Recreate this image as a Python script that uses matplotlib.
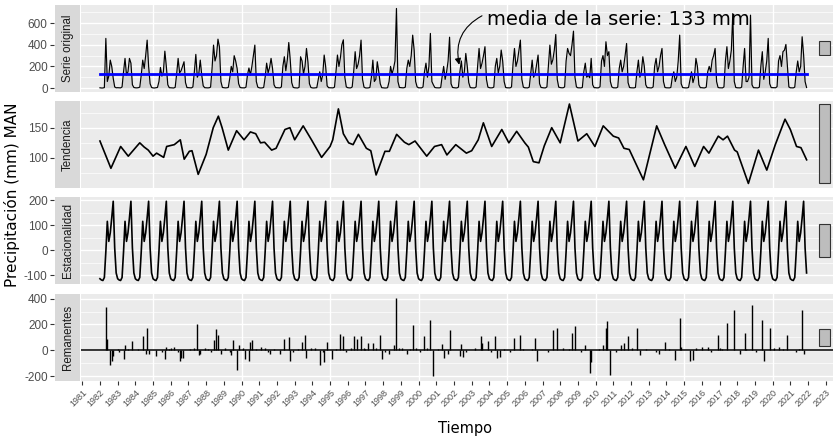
import numpy as np
import matplotlib
matplotlib.use("Agg")
import matplotlib.pyplot as plt
from matplotlib.patches import Rectangle, FancyArrowPatch

plt.rcParams['axes.unicode_minus'] = False

# ---------------- data ----------------
anio_inicio = 1982
serie_original = [
    2, 0, 0, 4, 459, 60, 110, 258, 200, 90, 10, 2,        # 1982
    3, 2, 1, 10, 150, 274, 120, 150, 274, 230, 30, 5,     # 1983
    2, 1, 3, 8, 120, 258, 180, 300, 443, 200, 40, 5,      # 1984
    1, 0, 2, 5, 60, 190, 110, 150, 341, 200, 30, 3,       # 1985
    2, 1, 0, 6, 130, 274, 140, 160, 200, 243, 50, 4,      # 1986
    3, 2, 1, 10, 150, 311, 100, 130, 258, 120, 20, 3,     # 1987
    2, 1, 2, 8, 180, 397, 250, 300, 452, 380, 60, 5,      # 1988
    3, 1, 2, 5, 90, 200, 150, 299, 250, 180, 40, 5,       # 1989
    2, 1, 1, 8, 120, 185, 120, 200, 300, 397, 60, 8,      # 1990
    2, 0, 1, 5, 100, 230, 140, 190, 274, 180, 30, 4,      # 1991
    3, 1, 1, 10, 200, 289, 160, 260, 421, 260, 50, 6,     # 1992
    2, 1, 0, 6, 289, 250, 130, 200, 366, 240, 40, 5,      # 1993
    1, 0, 1, 3, 80, 150, 60, 120, 305, 200, 20, 3,        # 1994
    2, 1, 1, 8, 150, 305, 200, 280, 400, 446, 100, 10,    # 1995
    3, 1, 1, 10, 150, 336, 180, 220, 300, 443, 80, 8,     # 1996
    1, 0, 1, 5, 100, 258, 60, 80, 243, 150, 40, 3,        # 1997
    1, 0, 0, 3, 60, 200, 130, 180, 250, 736, 60, 5,       # 1998
    3, 2, 2, 8, 180, 258, 200, 300, 489, 350, 60, 10,     # 1999
    2, 1, 1, 10, 150, 230, 100, 200, 505, 60, 30, 5,      # 2000
    2, 1, 1, 5, 110, 200, 80, 150, 250, 470, 40, 5,       # 2001
    3, 1, 1, 8, 150, 250, 100, 150, 320, 200, 50, 5,      # 2002
    2, 1, 1, 10, 200, 366, 180, 230, 300, 382, 80, 8,     # 2003
    3, 1, 2, 8, 200, 274, 140, 200, 351, 250, 60, 5,      # 2004
    2, 1, 1, 10, 220, 366, 200, 250, 350, 443, 80, 8,     # 2005
    2, 1, 1, 8, 130, 258, 100, 130, 220, 305, 40, 5,      # 2006
    3, 1, 1, 10, 200, 397, 220, 260, 350, 495, 80, 8,     # 2007
    4, 2, 2, 10, 250, 366, 320, 300, 400, 526, 100, 10,   # 2008
    2, 1, 1, 5, 150, 230, 100, 120, 95, 274, 30, 3,       # 2009
    3, 1, 2, 12, 250, 300, 200, 428, 300, 336, 60, 10,    # 2010
    2, 1, 1, 8, 180, 258, 150, 200, 300, 412, 50, 5,      # 2011
    2, 1, 1, 5, 150, 258, 100, 150, 289, 200, 30, 3,      # 2012
    3, 1, 1, 10, 200, 274, 150, 200, 300, 366, 60, 5,     # 2013
    2, 1, 1, 5, 100, 150, 60, 100, 250, 489, 40, 4,       # 2014
    2, 1, 1, 5, 80, 150, 50, 100, 274, 200, 30, 3,        # 2015
    3, 1, 1, 8, 150, 200, 150, 258, 300, 366, 60, 5,      # 2016
    2, 1, 1, 10, 250, 382, 180, 250, 350, 689, 60, 5,     # 2017
    2, 1, 1, 8, 200, 366, 60, 60, 100, 674, 30, 3,        # 2018
    2, 1, 1, 8, 200, 336, 80, 150, 250, 459, 40, 4,       # 2019
    3, 1, 2, 12, 250, 300, 200, 336, 350, 403, 200, 10,   # 2020
    2, 1, 1, 8, 150, 250, 150, 200, 474, 305, 60, 5,      # 2021
]
estacionalidad_mensual = [-113, -118, -120, -108, -5, 116, 36, 70, 130, 196, 10, -90]

tendencia_t = [1982.0, 1982.62, 1983.17, 1983.6, 1984.07, 1984.25, 1984.5, 1984.73,
               1985.0, 1985.2, 1985.6, 1985.77, 1986.2, 1986.54, 1986.76, 1987.05,
               1987.2, 1987.55, 1988.0, 1988.4, 1988.69, 1988.9, 1989.25, 1989.72,
               1990.14, 1990.5, 1990.8, 1991.07, 1991.3, 1991.7, 1991.95, 1992.45,
               1992.73, 1993.0, 1993.48, 1993.95, 1994.52, 1995.0, 1995.15, 1995.47,
               1995.75, 1996.05, 1996.3, 1996.6, 1997.05, 1997.3, 1997.6, 1998.1,
               1998.35, 1998.76, 1999.2, 1999.45, 1999.8, 2000.46, 2000.9, 2001.3,
               2001.6, 2002.1, 2002.4, 2002.7, 2003.0, 2003.37, 2003.66, 2004.13,
               2004.7, 2005.1, 2005.54, 2006.0, 2006.2, 2006.48, 2006.8, 2007.1,
               2007.52, 2008.0, 2008.52, 2009.0, 2009.5, 2009.96, 2010.43, 2011.0,
               2011.3, 2011.6, 2011.9, 2012.7, 2013.45, 2013.9, 2014.5, 2015.1,
               2015.6, 2016.1, 2016.4, 2016.93, 2017.2, 2017.45, 2017.85, 2018.0,
               2018.63, 2019.2, 2019.67, 2020.15, 2020.7, 2021.0, 2021.35, 2021.6,
               2021.92]
tendencia_v = [128, 83, 119, 103, 119, 125, 118, 113,
               103, 108, 101, 119, 122, 130, 98, 111,
               112, 73, 106, 150, 169, 150, 113, 145,
               130, 143, 140, 125, 126, 113, 116, 147,
               150, 130, 153, 130, 101, 119, 130, 181,
               140, 125, 122, 139, 116, 112, 72, 111,
               111, 139, 126, 122, 128, 103, 119, 122,
               105, 122, 115, 108, 112, 130, 158, 119,
               147, 125, 144, 125, 118, 94, 92, 120,
               150, 125, 189, 128, 140, 119, 153, 136,
               133, 116, 114, 64, 153, 122, 83, 119,
               86, 119, 108, 136, 130, 136, 113, 110,
               58, 113, 80, 122, 164, 147, 119, 117,
               97]

remanente_t = [1982.34, 1982.42, 1982.57, 1982.67, 1982.75, 1983.3, 1983.41, 1983.8,
               1984.45, 1984.64, 1984.55, 1984.75, 1985.2, 1985.67, 1985.75, 1986.2,
               1986.52, 1986.6, 1986.7, 1987.3, 1987.5, 1987.6, 1987.7, 1987.9,
               1988.4, 1988.55, 1988.69, 1988.8, 1989.4, 1989.53, 1989.76, 1989.85,
               1990.1, 1990.15, 1990.4, 1990.5, 1990.6, 1991.1, 1991.3, 1991.6,
               1992.2, 1992.45, 1992.64, 1992.75, 1993.4, 1993.58, 1993.7, 1994.2,
               1994.43, 1994.7, 1994.85, 1995.1, 1995.6, 1995.75, 1996.37, 1996.5,
               1996.78, 1996.9, 1997.2, 1997.45, 1997.6, 1997.82, 1997.9, 1998.3,
               1998.6, 1998.76, 1998.9, 1999.1, 1999.3, 1999.7, 1999.8, 2000.36,
               2000.64, 2000.8, 2001.36, 2001.45, 2001.77, 2001.7, 2002.3, 2002.4,
               2002.5, 2003.47, 2003.6, 2003.88, 2004.37, 2004.45, 2004.6, 2005.4,
               2005.73, 2006.6, 2006.7, 2007.61, 2007.8, 2008.65, 2008.8, 2009.45,
               2009.7, 2009.75, 2010.4, 2010.59, 2010.66, 2010.8, 2011.4, 2011.6,
               2011.81, 2012.37, 2012.5, 2013.6, 2013.9, 2014.5, 2014.73, 2014.8,
               2015.3, 2015.5, 2016.0, 2016.3, 2016.88, 2017.0, 2017.4, 2017.83,
               2018.2, 2018.4, 2018.82, 2019.38, 2019.47, 2019.8, 2020.3, 2020.87,
               2021.65, 2021.75,
               # small residuals near the baseline
               1983.0, 1983.1, 1983.6, 1984.2, 1985.5, 1985.9, 1986.0, 1986.4,
               1987.1, 1988.1, 1988.25, 1989.1, 1989.3, 1990.8, 1991.5, 1991.8,
               1992.9, 1993.2, 1993.9, 1994.6, 1995.3, 1995.9, 1996.2, 1997.0,
               1998.1, 1999.5, 2000.1, 2000.5, 2001.1, 2002.7, 2003.2, 2004.1,
               2004.8, 2005.2, 2005.9, 2006.4, 2007.3, 2008.2, 2008.5, 2009.2,
               2010.2, 2011.2, 2012.1, 2012.8, 2013.4, 2014.2, 2015.7, 2016.5,
               2017.2, 2018.5, 2019.1, 2020.1, 2020.6, 2021.3, 2021.5]
remanente_v = [333, 90, -111, -85, -40, -70, 44, 75,
               108, 173, -30, -30, -45, -64, 30, 30,
               -85, -60, -55, 15, 204, -35, -25, 20,
               83, 168, 118, -30, -35, 83, -150, 44,
               15, -70, -85, 65, 80, 30, 20, -30,
               -25, 90, 105, -85, 65, 118, -55, 20,
               -111, -90, 68, -70, 127, 108, 108, 85,
               108, 20, 55, 55, 20, 118, -70, -30,
               44, 406, 20, 15, -30, 199, 20, 109,
               238, -201, 50, -60, 160, -30, -40, 50,
               -50, 109, 60, 75, 109, -55, -50, 95,
               122, 95, -80, 160, 176, 137, 186, 44,
               -175, -90, 44, 176, 225, -188, 44, 55,
               109, 176, -35, -30, 68, -75, 250, 30,
               -80, -75, 30, 30, 118, 20, 212, 315,
               -30, 137, 354, 238, -80, 176, 30, 116,
               315, -30,
               10, -12, 8, 12, -15, 10, 15, -10,
               12, 10, -12, 15, -10, 12, -15, 10,
               -12, 14, 15, -10, 12, -10, 15, 10,
               -15, 12, -10, 15, 10, -12, 15, -10,
               12, -15, 10, 12, -10, 15, 12, -15,
               10, -12, 15, 10, -12, 10, 15, -10,
               12, 10, -12, 15, 10, -10, 12]

media_serie = 133
anios_eje = list(range(1981, 2024))

# ---------------- derived ----------------
n = len(serie_original)
t = anio_inicio + np.arange(n) / 12.0
estacional = np.tile(estacionalidad_mensual, n // 12)
rem_t = anio_inicio + np.round((np.array(remanente_t) - anio_inicio) * 12) / 12.0

# ---------------- figure ----------------
W, H = 833, 441
fig = plt.figure(figsize=(W / 100, H / 100), dpi=100)

left_px, right_px = 81, 833
tops = [5, 101, 197, 294]
ph = 87
xlim = (1980.93, 2023.41)

ylims = [(-37, 768), (50.5, 194), (-134, 213), (-236, 435)]
majors = [[0, 200, 400, 600], [100, 150], [-100, 0, 100, 200], [-200, 0, 200, 400]]
minors = [[100, 300, 500, 700], [75, 125, 175], [-50, 50, 150], [-100, 100, 300]]
strips = ["Serie original", "Tendencia", "Estacionalidad", "Remanentes"]

axes = []
for i in range(4):
    ax = fig.add_axes([left_px / W, 1 - (tops[i] + ph) / H,
                       (right_px - left_px) / W, ph / H])
    ax.set_facecolor('#EBEBEB')
    for s in ax.spines.values():
        s.set_visible(False)
    ax.spines['left'].set_position(('outward', 27 * 0.72))
    ax.set_xlim(*xlim)
    ax.set_ylim(*ylims[i])
    ax.set_yticks(majors[i])
    ax.set_yticks(minors[i], minor=True)
    ax.set_yticklabels([str(v) for v in majors[i]])
    ax.tick_params(axis='y', which='major', length=3, width=0.8, color='#333333',
                   labelcolor='#4D4D4D', labelsize=8.5, pad=1.5)
    ax.tick_params(axis='y', which='minor', length=0)
    ax.grid(which='major', axis='y', color='white', lw=1.0)
    ax.grid(which='minor', axis='y', color='white', lw=0.5)
    for yr in range(1985, 2021, 5):
        ax.axvline(yr, color='white', lw=1.0, zorder=0.5)
    ax.set_axisbelow(True)
    ax.set_xticks(anios_eje)
    if i < 3:
        ax.tick_params(axis='x', length=0, labelbottom=False)
    else:
        ax.set_xticklabels([str(a) for a in anios_eje], rotation=45,
                           ha='right', va='top', rotation_mode='anchor')
        ax.tick_params(axis='x', length=3, width=0.8, color='#333333',
                       labelcolor='#4D4D4D', labelsize=6.5, pad=2)
    for lab in ax.get_xticklabels() + ax.get_yticklabels():
        lab.set_fontfamily('Liberation Sans')
    # strip
    wpx = right_px - left_px
    ax.add_patch(Rectangle((-26 / wpx, 0), 25 / wpx, 1, transform=ax.transAxes,
                           facecolor='#D9D9D9', edgecolor='none', clip_on=False))
    ax.text(-13.5 / wpx, 0.5, strips[i], transform=ax.transAxes, rotation=90,
            ha='center', va='center', fontsize=8.3, color='#1A1A1A',
            family='Liberation Sans')
    axes.append(ax)

ax1, ax2, ax3, ax4 = axes

# panel 1: original
ax1.fill_between(t, 0, serie_original, color='#CFCFCF', alpha=0.8, lw=0, zorder=1)
ax1.plot(t, serie_original, color='black', lw=0.85, zorder=2)
ax1.plot([t[0], t[-1]], [media_serie, media_serie], color='#0000FF', lw=2.0, zorder=3)
ax1.text(2003.86, 637, "media de la serie: %d mm" % media_serie, fontsize=14,
         ha='left', va='center', family='DejaVu Sans', zorder=5)
arr = FancyArrowPatch((2003.72, 680), (2002.33, 190),
                      connectionstyle="arc3,rad=0.4", arrowstyle='-|>',
                      mutation_scale=9, color='black', lw=0.8, zorder=4)
ax1.add_patch(arr)

# panel 2: trend
ax2.plot(tendencia_t, tendencia_v, color='black', lw=1.2)

# panel 3: seasonal
ax3.plot(t, estacional, color='black', lw=1.2)

# panel 4: remainder
ax4.axhline(0, color='black', lw=1.1, zorder=2)
ax4.vlines(rem_t, 0, remanente_v, color='black', lw=1.0, zorder=3)

# range bars (same data length in all panels = trend range)
rng = max(tendencia_v) - min(tendencia_v)
centers = [(max(serie_original) + min(serie_original)) / 2,
           (max(tendencia_v) + min(tendencia_v)) / 2,
           (max(estacional) + min(estacional)) / 2,
           (max(remanente_v) + min(remanente_v)) / 2]
for ax, c in zip(axes, centers):
    ax.add_patch(Rectangle((2022.64, c - rng / 2), 0.6, rng, facecolor='#BDBDBD',
                           edgecolor='#333333', lw=0.8, zorder=4))

fig.text(12 / W, 1 - 195 / H, "Precipitación (mm) MAN", rotation=90, ha='center',
         va='center', fontsize=11, family='DejaVu Sans')
fig.text(465 / W, 1 - 429 / H, "Tiempo", ha='center', va='center', fontsize=10.5,
         family='DejaVu Sans')

fig.savefig("out.png", dpi=100, facecolor='white')
